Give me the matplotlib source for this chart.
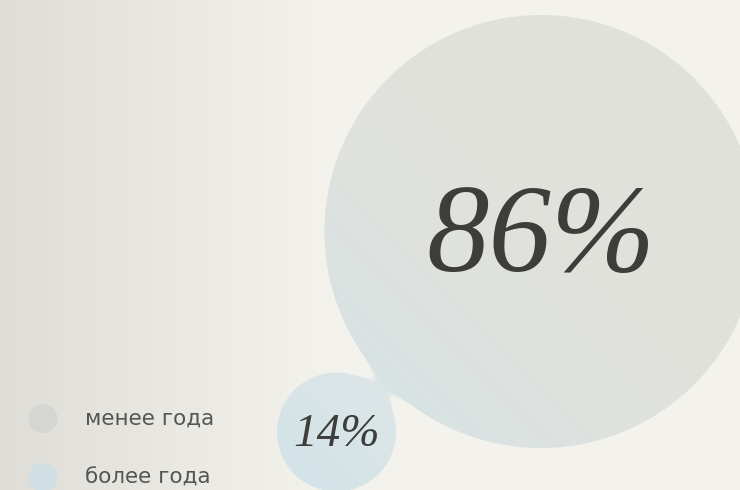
import numpy as np
import matplotlib
matplotlib.use("Agg")
import matplotlib.pyplot as plt

# данные
labels = ['менее года', 'более года']
shares = [86, 14]

# геометрия пузырей (в пикселях)
centers = [(541, 231.5), (336.5, 432)]
radii = [216.5, 59.5]
neck_k = 23.5

W, H = 740, 490

# цвета
bg_left = np.array([222, 221, 216]) / 255
bg_right = np.array([243, 242, 237]) / 255
bubble_top = [np.array([225, 225, 220]) / 255, np.array([220, 230, 231]) / 255]
bubble_bot = [np.array([216, 227, 228]) / 255, np.array([211, 227, 231]) / 255]
dot_colors = ['#d5d5d2', '#cfdfe3']
text_color = '#3d3d3b'
legend_text = '#555553'

fig = plt.figure(figsize=(W / 100, H / 100), dpi=100)
ax = fig.add_axes([0, 0, 1, 1])
ax.set_xlim(0, W)
ax.set_ylim(H, 0)
ax.axis('off')

# фон с горизонтальным градиентом
xs = np.arange(W) + 0.5
ys = np.arange(H) + 0.5
X, Y = np.meshgrid(xs, ys)
t = np.clip(X / 330.0, 0, 1)[..., None]
bg = bg_left * (1 - t) + bg_right * t
ax.imshow(bg, extent=(0, W, H, 0), interpolation='nearest', zorder=0)

# пузыри: плавное объединение двух кругов
d = [np.hypot(X - cx, Y - cy) - r for (cx, cy), r in zip(centers, radii)]
a, b = d
h = np.clip(neck_k - np.abs(a - b), 0, None) / neck_k
sdf = np.minimum(a, b) - h * h * neck_k / 4.0
alpha = np.clip(0.5 - sdf, 0, 1)

rgb = np.zeros((H, W, 3))
for i, ((cx, cy), r) in enumerate(zip(centers, radii)):
    # диагональный градиент: снизу-слева голубее
    u = ((X - cx) - (Y - cy)) / (2 * r * 1.414) + 0.5
    u = np.clip(u, 0, 1)
    if i == 0:
        u = np.clip(u / 0.5, 0, 1) ** 0.6
    u = u[..., None]
    col = bubble_bot[i] * (1 - u) + bubble_top[i] * u
    mask = (d[i] <= d[1 - i])[..., None]
    rgb = np.where(mask, col, rgb)

rgba = np.dstack([rgb, alpha])
ax.imshow(rgba, extent=(0, W, H, 0), interpolation='nearest', zorder=1)

# подписи процентов
ax.text(centers[0][0], 271, f'{shares[0]}%', ha='center', va='baseline',
        fontsize=90, fontstyle='italic', family='Liberation Serif',
        color=text_color, zorder=3)
ax.text(centers[1][0], 446, f'{shares[1]}%', ha='center', va='baseline',
        fontsize=34, fontstyle='italic', family='Liberation Serif',
        color=text_color, zorder=3)

# легенда
legend_y = [418.5, 477.5]
for lab, col, y in zip(labels, dot_colors, legend_y):
    ax.scatter([43], [y], s=(29 * 0.72) ** 2, color=col, edgecolors='none', zorder=3)
    ax.text(85, y, lab, ha='left', va='center', fontsize=15.5, family='DejaVu Sans',
            color=legend_text, zorder=3)

fig.savefig('out.png', dpi=100)
